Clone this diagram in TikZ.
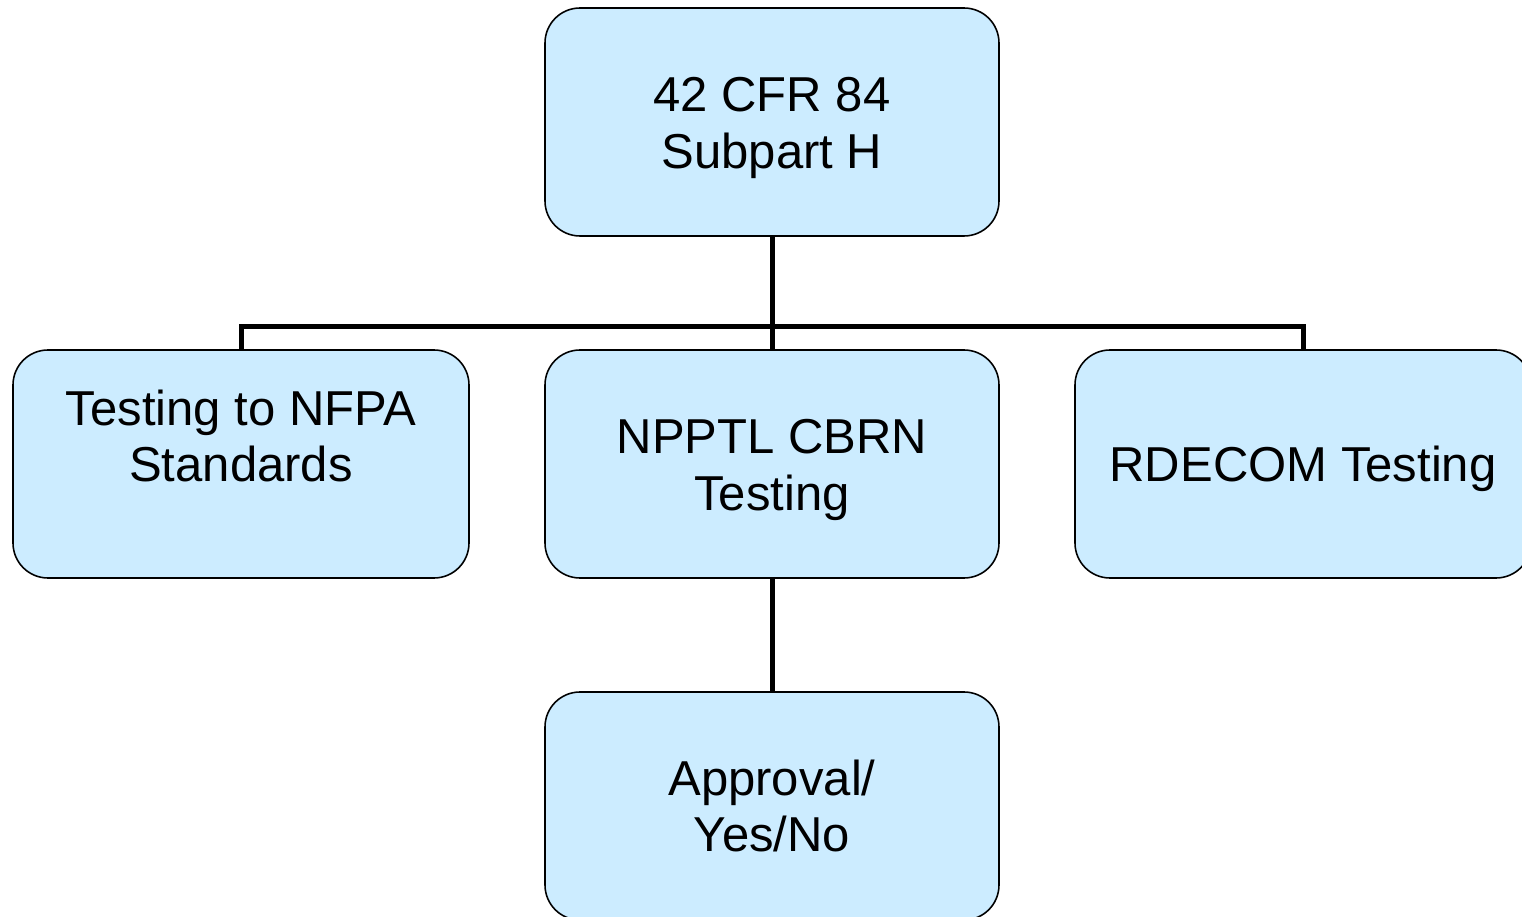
\documentclass[tikz,border=0pt]{standalone}
\usepackage{fontspec}
\setmainfont{Liberation Sans}
\definecolor{boxblue}{HTML}{CCECFF}
\newcommand\lift{\rule{0pt}{26pt}}
\tikzset{
  stage/.style={draw=black,line width=0.9pt,fill=boxblue,rounded corners=0.7cm,
    minimum width=9.08cm,minimum height=4.56cm,align=center,inner sep=0pt,
    font=\fontsize{27.9}{32.3}\selectfont},
  conn/.style={line width=0.1cm}
}
\begin{document}
\begin{tikzpicture}
\useasboundingbox (0,0) rectangle (30.44,18.32);
\clip (0,0) rectangle (30.44,18.32);
% boxes
\node[stage] (cfr) at (15.44,15.88) {\lift 42 CFR 84\\Subpart H};
\node[stage,minimum width=9.12cm] (nfpa) at (4.82,9.04) {Testing to NFPA\\Standards\\~};
\node[stage] (cbrn) at (15.44,9.04) {\lift NPPTL CBRN\\Testing};
\node[stage,minimum width=9.12cm] (rdecom) at (26.06,9.04) {\lift RDECOM Testing};
\node[stage] (approval) at (15.44,2.2) {Approval/\\Yes/No};
% connectors
\coordinate (bar) at (15.44,11.78);
\draw[conn] (cfr) -- (bar);
\draw[conn] (nfpa.north) |- (bar) -| (rdecom.north);
\draw[conn] (bar) -- (cbrn);
\draw[conn] (cbrn) -- (approval);
\end{tikzpicture}
\end{document}
